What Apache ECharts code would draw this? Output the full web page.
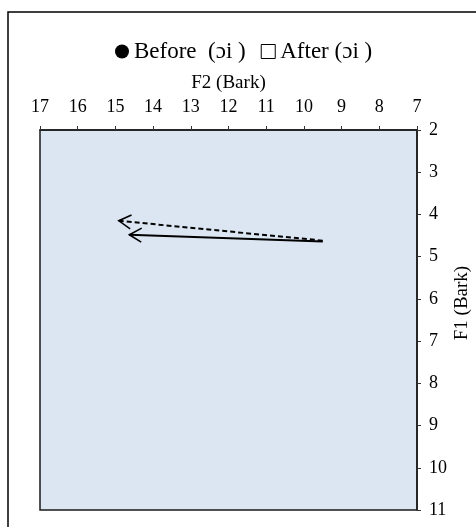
<!DOCTYPE html>
<html>
<head>
<meta charset="utf-8">
<script src="https://cdn.jsdelivr.net/npm/echarts@6/dist/echarts.min.js"></script>
<style>
html, body { margin: 0; padding: 0; background: #fff; }
#chart1 { width: 476px; height: 527px; }
</style>
</head>
<body>
<div id="chart1"></div>
<script>
var myChart = echarts.init(document.getElementById('chart1'));

// arrow trajectories: start (F2, F1) -> end (F2, F1), in Bark
var seriesNames = ['Before  (ɔi )', 'After (ɔi )'];
var startF2 = [9.5, 9.5];
var startF1 = [4.64, 4.62];
var endF2 = [14.63, 14.91];
var endF1 = [4.48, 4.15];

var f2Ticks = [7, 17];   // min, max of top axis
var f1Ticks = [2, 11];   // min, max of right axis

var font = 'Liberation Serif';

function arrowRender(dashed) {
    return function (params, api) {
        var p0 = api.coord([api.value(0), api.value(1)]);
        var p1 = api.coord([api.value(2), api.value(3)]);
        var ang = Math.atan2(p1[1] - p0[1], p1[0] - p0[0]);
        var L = 14, a = Math.PI / 6;
        var h1 = [p1[0] - L * Math.cos(ang - a), p1[1] - L * Math.sin(ang - a)];
        var h2 = [p1[0] - L * Math.cos(ang + a), p1[1] - L * Math.sin(ang + a)];
        return {
            type: 'group',
            children: [
                {
                    type: 'line',
                    shape: { x1: p0[0], y1: p0[1], x2: p1[0], y2: p1[1] },
                    style: { stroke: '#000', lineWidth: 2, lineDash: dashed ? [5, 3] : null }
                },
                {
                    type: 'polyline',
                    shape: { points: [h1, p1, h2] },
                    style: { stroke: '#000', lineWidth: 1.6, fill: null }
                }
            ]
        };
    };
}

var series = [];
for (var i = 0; i < seriesNames.length; i++) {
    series.push({
        name: seriesNames[i],
        type: 'custom',
        renderItem: arrowRender(i === 1),
        encode: { x: [0, 2], y: [1, 3] },
        itemStyle: { color: '#000' },
        data: [[startF2[i], startF1[i], endF2[i], endF1[i]]],
        animation: false
    });
}

option = {
    animation: false,
    backgroundColor: '#fff',
    legend: {
        top: 35,
        left: 110,
        itemWidth: 14,
        itemHeight: 14,
        itemGap: 15,
        textStyle: { fontFamily: font, fontSize: 23, color: '#000' },
        data: [
            { name: seriesNames[0], icon: 'circle', itemStyle: { color: '#000' } },
            { name: seriesNames[1], icon: 'rect', itemStyle: { color: '#fff', borderColor: '#000', borderWidth: 1 } }
        ]
    },
    grid: {
        left: 40,
        right: 59,
        top: 130,
        bottom: 17,
        outerBoundsMode: 'none',
        show: true,
        backgroundColor: '#dce6f2',
        borderColor: '#1a1a1a',
        borderWidth: 1.5
    },
    xAxis: {
        type: 'value',
        position: 'top',
        inverse: true,
        min: f2Ticks[0],
        max: f2Ticks[1],
        interval: 1,
        name: 'F2 (Bark)',
        nameLocation: 'middle',
        nameGap: 37,
        nameMoveOverlap: false,
        nameTextStyle: { fontFamily: font, fontSize: 19, color: '#000' },
        axisLine: { show: true, lineStyle: { color: '#1a1a1a', width: 1.5 } },
        axisTick: { show: true, inside: false, length: 4, lineStyle: { color: '#333' } },
        axisLabel: { fontFamily: font, fontSize: 18, color: '#000', margin: 14 },
        splitLine: { show: false }
    },
    yAxis: {
        type: 'value',
        position: 'right',
        inverse: true,
        min: f1Ticks[0],
        max: f1Ticks[1],
        interval: 1,
        name: 'F1 (Bark)',
        nameLocation: 'middle',
        nameGap: 36,
        nameMoveOverlap: false,
        nameTextStyle: { fontFamily: font, fontSize: 19, color: '#000', padding: [0, 0, 0, 34] },
        axisLine: { show: true, lineStyle: { color: '#1a1a1a', width: 1.5 } },
        axisTick: { show: true, inside: false, length: 4, lineStyle: { color: '#333' } },
        axisLabel: { fontFamily: font, fontSize: 18, color: '#000', margin: 12 },
        splitLine: { show: false }
    },
    graphic: [
        {
            type: 'polyline',
            shape: { points: [[8, 527], [8, 12], [476, 12]] },
            style: { stroke: '#000', lineWidth: 1.5, fill: null }
        }
    ],
    series: series
};
myChart.setOption(option);
</script>
</body>
</html>
